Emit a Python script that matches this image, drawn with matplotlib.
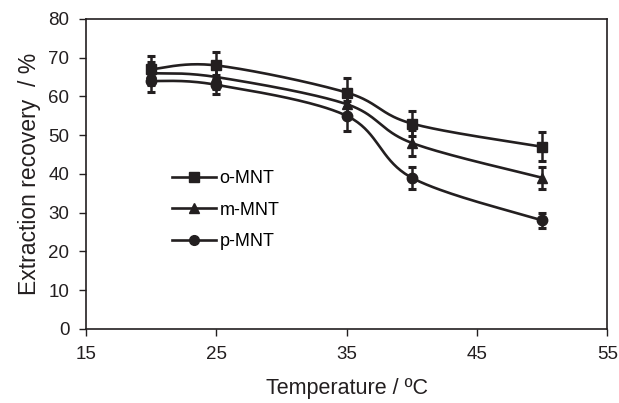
import numpy as np
import matplotlib
matplotlib.use("Agg")
import matplotlib.pyplot as plt

plt.rcParams["font.family"] = ["Liberation Sans", "DejaVu Sans"]

temperature = [20, 25, 35, 40, 50]
o_mnt = [67, 68, 61, 53, 47]
o_err = [3.5, 3.4, 3.7, 3.3, 3.8]
m_mnt = [66, 65, 58, 48, 39]
m_err = [3.0, 3.0, 3.0, 3.3, 2.9]
p_mnt = [64, 63, 55, 39, 28]
p_err = [2.8, 2.5, 3.8, 2.8, 2.0]

series = [
    ("o-MNT", o_mnt, o_err, "s"),
    ("m-MNT", m_mnt, m_err, "^"),
    ("p-MNT", p_mnt, p_err, "o"),
]

ink = "#231f20"


def smooth(ax, xs, ys, n=40):
    """Excel-like smoothed line: Catmull-Rom Bezier in display space."""
    pts = ax.transData.transform(np.column_stack([xs, ys]))
    out = []
    for i in range(len(pts) - 1):
        p0 = pts[max(i - 1, 0)]
        p1 = pts[i]
        p2 = pts[i + 1]
        p3 = pts[min(i + 2, len(pts) - 1)]
        c1 = p1 + (p2 - p0) / 6
        c2 = p2 - (p3 - p1) / 6
        t = np.linspace(0, 1, n)[:, None]
        seg = ((1 - t) ** 3 * p1 + 3 * (1 - t) ** 2 * t * c1
               + 3 * (1 - t) * t ** 2 * c2 + t ** 3 * p2)
        out.append(seg if i == 0 else seg[1:])
    out = np.vstack(out)
    return ax.transData.inverted().transform(out)


fig = plt.figure(figsize=(6.19, 4.03), dpi=100)
ax = fig.add_axes([0.139, 0.184, 0.842, 0.769])
ax.set_xlim(15, 55)
ax.set_ylim(0, 80)

for label, vals, err, mk in series:
    curve = smooth(ax, temperature, vals)
    ax.plot(curve[:, 0], curve[:, 1], color=ink, lw=1.9, zorder=2)
    ax.errorbar(temperature, vals, yerr=err, fmt="none", ecolor=ink,
                elinewidth=1.8, capsize=3, capthick=2.2, zorder=3)
    ax.plot(temperature, vals, linestyle="none", marker=mk, ms=7.5,
            color=ink, zorder=4)
    ax.plot([], [], color=ink, lw=1.9, marker=mk, ms=7, label=label)

leg = ax.legend(loc="upper left", bbox_to_anchor=(0.152, 0.535), frameon=False,
                fontsize=13, handlelength=2.4, handletextpad=0.2,
                labelspacing=0.8, borderaxespad=0)

ax.set_xticks([15, 25, 35, 45, 55])
ax.set_yticks(range(0, 81, 10))
ax.tick_params(direction="out", length=5, width=1, colors=ink,
               labelsize=13.5, pad=7)
for s in ax.spines.values():
    s.set_color(ink)
    s.set_linewidth(1.2)

ax.set_xlabel("Temperature / ºC", fontsize=15.5, color=ink, labelpad=11)
ax.set_ylabel("Extraction recovery  / %", fontsize=16.5, color=ink, labelpad=5)

fig.savefig("out.png", dpi=100)
